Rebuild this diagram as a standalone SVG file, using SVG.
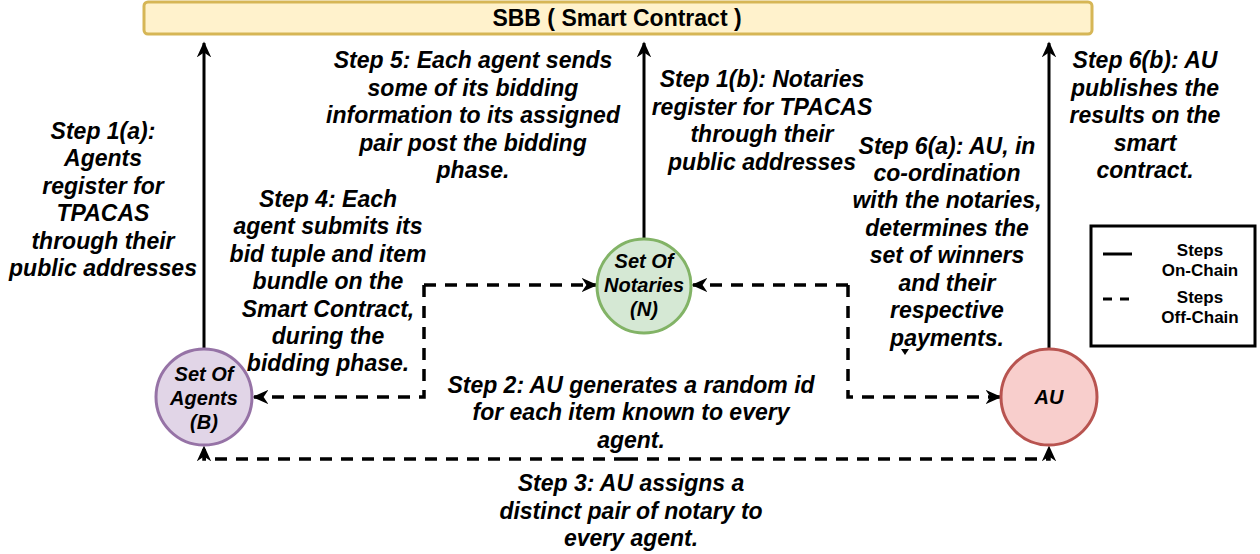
<svg xmlns="http://www.w3.org/2000/svg" width="1260" height="554" viewBox="0 0 1260 554">
<defs>
<style>
.lbl{font-family:"Liberation Sans",Arial,sans-serif;font-size:23px;font-weight:bold;font-style:italic;fill:#000;text-anchor:middle}
.node{font-family:"Liberation Sans",Arial,sans-serif;font-size:20px;font-weight:bold;font-style:italic;fill:#000;text-anchor:middle}
.leg{font-family:"Liberation Sans",Arial,sans-serif;font-size:17px;font-weight:bold;fill:#000;text-anchor:middle}
.solid{fill:none;stroke:#000;stroke-width:3}
.dash{fill:none;stroke:#000;stroke-width:3.5;stroke-dasharray:12 9}
</style>
<marker id="arr" viewBox="0 0 10 10" refX="9" refY="5" markerWidth="16" markerHeight="16" orient="auto" markerUnits="userSpaceOnUse">
<path d="M0,0.5 L10,5 L0,9.5 L3,5 Z" fill="#000"/>
</marker>
</defs>
<rect width="1260" height="554" fill="#fff"/>

<g id="sbb">
<rect x="144" y="2" width="948" height="32" rx="4" fill="#fff2cc" stroke="#d6b656" stroke-width="3"/>
<text x="617" y="26" class="leg" style="font-size:23px">SBB ( Smart Contract )</text>
</g>

<g id="connectors">
<path class="solid" d="M204,349 V43" marker-end="url(#arr)"/>
<path class="solid" d="M644,238 V43" marker-end="url(#arr)"/>
<path class="solid" d="M1049,349 V43" marker-end="url(#arr)"/>
<path class="dash" d="M424,285 H596" marker-end="url(#arr)"/>
<path class="dash" d="M424,285 V397 H254" marker-end="url(#arr)"/>
<path class="dash" d="M848,285 H693" marker-end="url(#arr)"/>
<path class="dash" d="M848,285 V397 H1000" marker-end="url(#arr)"/>
<path class="dash" d="M626,459 H204 V447" marker-end="url(#arr)"/>
<path class="dash" d="M626,459 H1049 V447" marker-end="url(#arr)"/>
<path d="M901,349 L909,349 L905,355 Z" fill="#000"/>
</g>

<g id="agents">
<circle cx="204" cy="397" r="48" fill="#e1d5e7" stroke="#9673a6" stroke-width="3"/>
<text class="node" x="204" y="381">Set Of</text>
<text class="node" x="204" y="405">Agents</text>
<text class="node" x="204" y="429">(B)</text>
</g>

<g id="notaries">
<circle cx="644" cy="286" r="47" fill="#d5e8d4" stroke="#82b366" stroke-width="3"/>
<text class="node" x="644" y="268">Set Of</text>
<text class="node" x="644" y="292">Notaries</text>
<text class="node" x="644" y="316">(N)</text>
</g>

<g id="au">
<circle cx="1049" cy="397" r="48" fill="#f8cecc" stroke="#b85450" stroke-width="3"/>
<text class="node" x="1049" y="404">AU</text>
</g>

<g id="legend">
<rect x="1091" y="226" width="164" height="120" fill="#fff" stroke="#000" stroke-width="3"/>
<line x1="1103" y1="254" x2="1132" y2="254" stroke="#000" stroke-width="3"/>
<line x1="1103" y1="299" x2="1132" y2="299" stroke="#000" stroke-width="3" stroke-dasharray="9 8"/>
<text class="leg" x="1200" y="256">Steps</text>
<text class="leg" x="1200" y="276">On-Chain</text>
<text class="leg" x="1200" y="303">Steps</text>
<text class="leg" x="1200" y="323">Off-Chain</text>
</g>

<g id="labels">
<text class="lbl" x="103" y="139">Step 1(a):</text>
<text class="lbl" x="103" y="166">Agents</text>
<text class="lbl" x="103" y="194">register for</text>
<text class="lbl" x="103" y="221">TPACAS</text>
<text class="lbl" x="103" y="249">through their</text>
<text class="lbl" x="103" y="276">public addresses</text>

<text class="lbl" x="473" y="68">Step 5: Each agent sends</text>
<text class="lbl" x="473" y="96">some of its bidding</text>
<text class="lbl" x="473" y="123">information to its assigned</text>
<text class="lbl" x="473" y="151">pair post the bidding</text>
<text class="lbl" x="473" y="178">phase.</text>

<text class="lbl" x="762" y="87">Step 1(b): Notaries</text>
<text class="lbl" x="762" y="115">register for TPACAS</text>
<text class="lbl" x="762" y="142">through their</text>
<text class="lbl" x="762" y="170">public addresses</text>

<text class="lbl" x="1145" y="68">Step 6(b): AU</text>
<text class="lbl" x="1145" y="96">publishes the</text>
<text class="lbl" x="1145" y="123">results on the</text>
<text class="lbl" x="1145" y="151">smart</text>
<text class="lbl" x="1145" y="178">contract.</text>

<text class="lbl" x="947" y="154">Step 6(a): AU, in</text>
<text class="lbl" x="947" y="181">co-ordination</text>
<text class="lbl" x="947" y="208">with the notaries,</text>
<text class="lbl" x="947" y="236">determines the</text>
<text class="lbl" x="947" y="263">set of winners</text>
<text class="lbl" x="947" y="291">and their</text>
<text class="lbl" x="947" y="318">respective</text>
<text class="lbl" x="947" y="346">payments.</text>

<text class="lbl" x="328" y="207">Step 4: Each</text>
<text class="lbl" x="328" y="234">agent submits its</text>
<text class="lbl" x="328" y="262">bid tuple and item</text>
<text class="lbl" x="328" y="289">bundle on the</text>
<text class="lbl" x="328" y="317">Smart Contract,</text>
<text class="lbl" x="328" y="344">during the</text>
<text class="lbl" x="328" y="371">bidding phase.</text>

<text class="lbl" x="631" y="393">Step 2: AU generates a random id</text>
<text class="lbl" x="631" y="420">for each item known to every</text>
<text class="lbl" x="631" y="448">agent.</text>

<text class="lbl" x="631" y="491">Step 3: AU assigns a</text>
<text class="lbl" x="631" y="519">distinct pair of notary to</text>
<text class="lbl" x="631" y="546">every agent.</text>
</g>
</svg>
